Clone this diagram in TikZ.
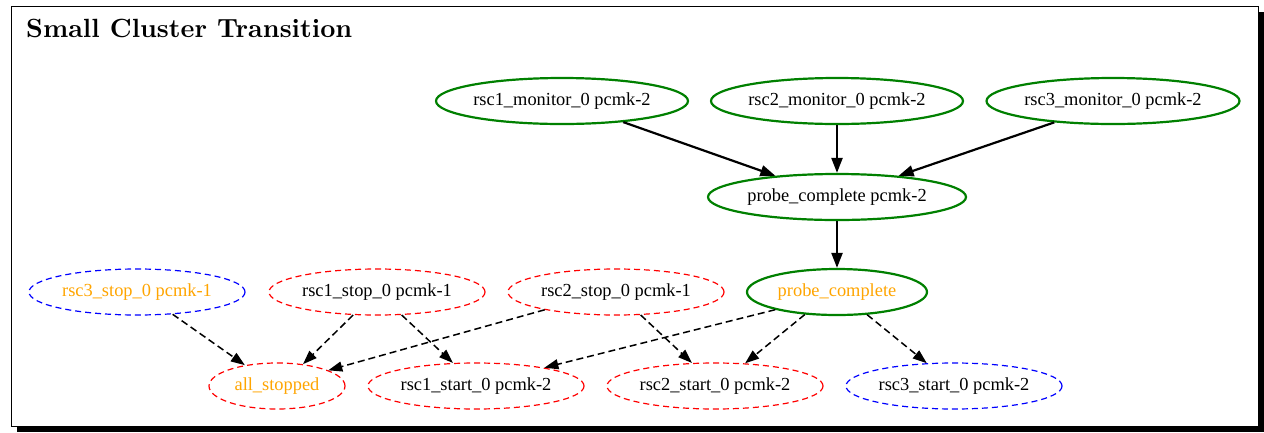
\documentclass[tikz,border=0pt]{standalone}
\usepackage{fontspec}
\newfontfamily\nodefont{Liberation Serif}
\usetikzlibrary{arrows.meta,shapes.geometric}
\definecolor{gvgreen}{RGB}{0,128,0}
\definecolor{gvorange}{RGB}{255,165,0}
\begin{document}
\begin{tikzpicture}[x=1pt,y=-1pt,
  nd/.style={ellipse, inner sep=0pt, minimum height=46pt, font=\nodefont\fontsize{18.4}{20}\selectfont},
  grn/.style={nd, draw=gvgreen, line width=2.2pt},
  rdd/.style={nd, draw=red, dash pattern=on 6pt off 4pt, line width=1.2pt},
  blu/.style={nd, draw=blue, dash pattern=on 6pt off 4pt, line width=1.2pt},
  org/.style={text=gvorange},
  sol/.style={line width=2.2pt, -{Triangle[length=15pt,width=11pt]}},
  dsh/.style={line width=1.5pt, dash pattern=on 7pt off 4pt, -{Triangle[length=14pt,width=10pt]}}]
\useasboundingbox (0,0) rectangle (1264,432);
\fill[black] (17,12) rectangle (1264,432);
\draw[fill=white, line width=0.8pt] (11,6) rectangle (1258,426);
\node[anchor=base west, inner sep=0pt] (title) at (26,37.3)
  {\resizebox{326pt}{!}{\fontsize{10}{12}\selectfont\bfseries Small Cluster Transition}};

\node[grn, minimum width=252pt] (m1) at (562,101) {rsc1\_monitor\_0 pcmk-2};
\node[grn, minimum width=252pt] (m2) at (837,101) {rsc2\_monitor\_0 pcmk-2};
\node[grn, minimum width=253pt] (m3) at (1113,101) {rsc3\_monitor\_0 pcmk-2};
\node[grn, minimum width=258pt] (pc2) at (837,197) {probe\_complete pcmk-2};
\node[grn, org, minimum width=180pt] (pc) at (837,292) {probe\_complete};
\node[blu, org, minimum width=216pt] (s3) at (137,292) {rsc3\_stop\_0 pcmk-1};
\node[rdd, minimum width=216pt] (s1) at (377,292) {rsc1\_stop\_0 pcmk-1};
\node[rdd, minimum width=216pt] (s2) at (616,292) {rsc2\_stop\_0 pcmk-1};
\node[rdd, org, minimum width=136pt] (as) at (277,386) {all\_stopped};
\node[rdd, minimum width=216pt] (t1) at (476,386) {rsc1\_start\_0 pcmk-2};
\node[rdd, minimum width=216pt] (t2) at (715,386) {rsc2\_start\_0 pcmk-2};
\node[blu, minimum width=216pt] (t3) at (954,386) {rsc3\_start\_0 pcmk-2};

\draw[sol] (m1.-19) -- (pc2.161);
\draw[sol] (m2.south) -- (pc2.north);
\draw[sol] (m3.200) -- (pc2.19);
\draw[sol] (pc2.south) -- (pc.north);

\draw[dsh] (s3.-32) -- (as.147);
\draw[dsh] (s1.-136) -- (as.40);
\draw[dsh] (s2.-166) -- (as.17);
\draw[dsh] (s1.-43) -- (t1.135);
\draw[dsh] (s2.-43) -- (t2.135);
\draw[dsh] (pc.-164.5) -- (t1.15.5);
\draw[dsh] (pc.-145) -- (t2.37.5);
\draw[dsh] (pc.-37) -- (t3.140);
\end{tikzpicture}
\end{document}
